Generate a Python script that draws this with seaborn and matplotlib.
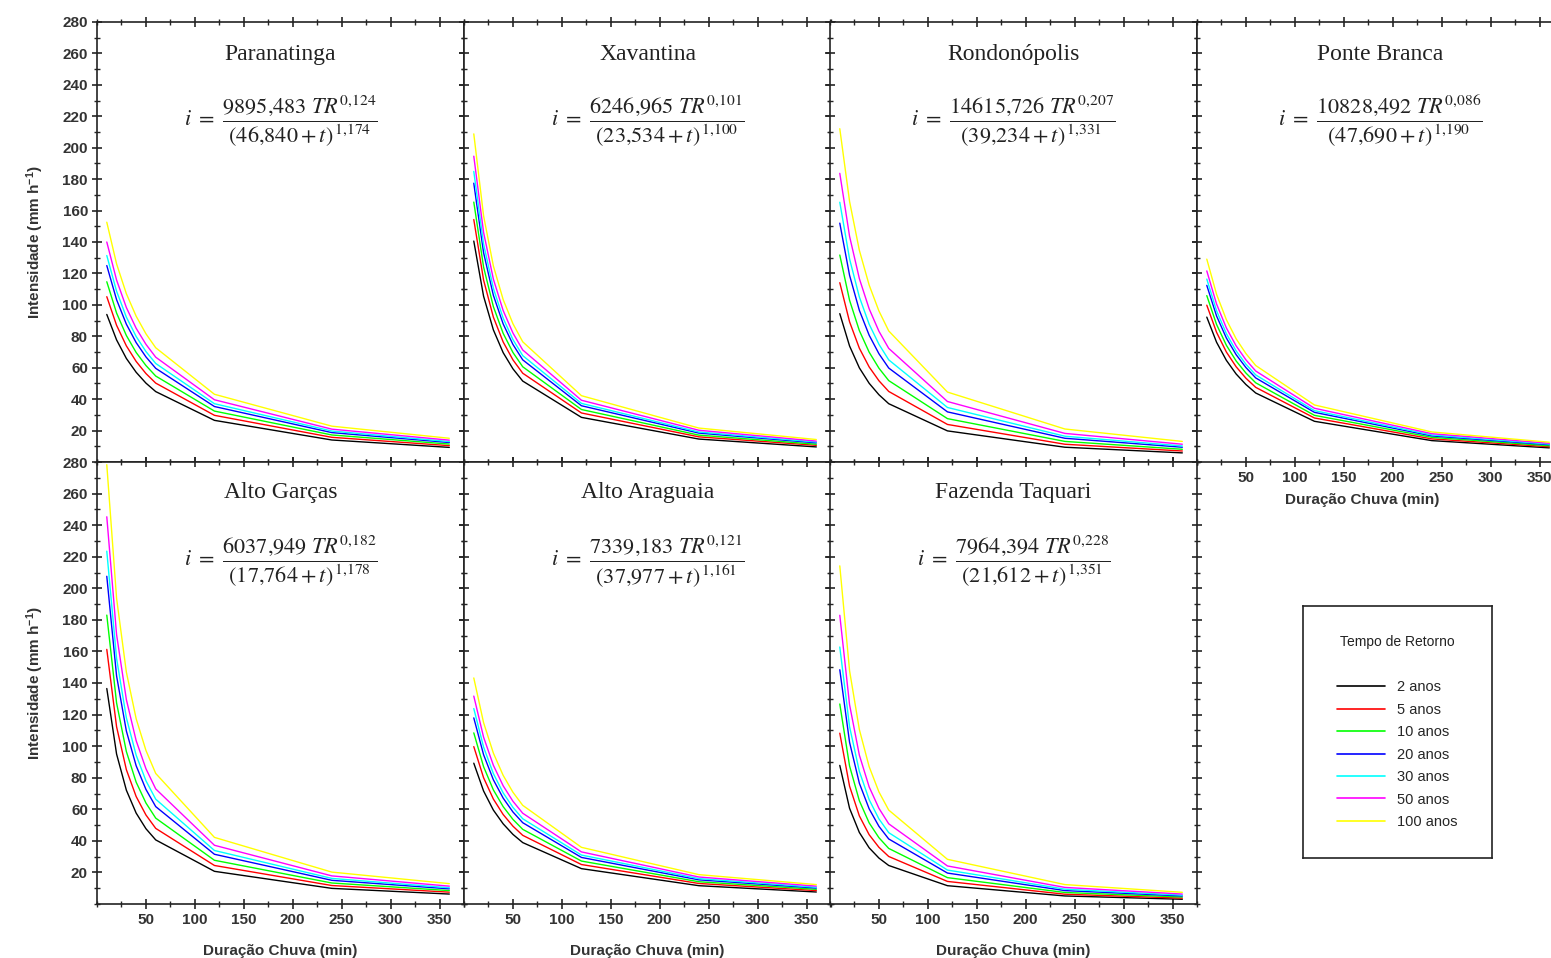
import matplotlib
matplotlib.use("Agg")
import matplotlib.pyplot as plt
from matplotlib.lines import Line2D
from matplotlib.ticker import MultipleLocator
import numpy as np
import pandas as pd
import seaborn as sns

# durations (min) and return periods
durations = [10, 20, 30, 40, 50, 60, 120, 240, 360]
return_periods = ["2 anos", "5 anos", "10 anos", "20 anos", "30 anos", "50 anos", "100 anos"]
line_colors = ["black", "red", "#00ff00", "blue", "cyan", "magenta", "yellow"]

# intensities (mm/h), one row per return period
paranatinga = [
    [93.9, 77.7, 65.9, 57.1, 50.2, 44.8, 26.5, 14.0, 9.3],
    [105.2, 87.0, 73.9, 64.0, 56.3, 50.2, 29.7, 15.7, 10.4],
    [114.7, 94.8, 80.5, 69.7, 61.4, 54.7, 32.4, 17.2, 11.4],
    [125.0, 103.3, 87.7, 76.0, 66.9, 59.6, 35.3, 18.7, 12.4],
    [131.4, 108.7, 92.2, 79.9, 70.3, 62.7, 37.1, 19.7, 13.0],
    [140.0, 115.8, 98.3, 85.1, 74.9, 66.7, 39.6, 20.9, 13.9],
    [152.6, 126.1, 107.1, 92.8, 81.6, 72.7, 43.1, 22.8, 15.1],
]
xavantina = [
    [140.6, 105.5, 84.1, 69.6, 59.3, 51.5, 28.4, 14.6, 9.6],
    [154.3, 115.8, 92.2, 76.4, 65.0, 56.5, 31.2, 16.0, 10.6],
    [165.4, 124.1, 98.9, 81.9, 69.7, 60.6, 33.4, 17.1, 11.3],
    [177.4, 133.2, 106.1, 87.9, 74.8, 65.0, 35.8, 18.4, 12.2],
    [184.9, 138.7, 110.5, 91.5, 77.9, 67.7, 37.3, 19.1, 12.7],
    [194.6, 146.1, 116.4, 96.4, 82.1, 71.3, 39.3, 20.2, 13.3],
    [208.8, 156.7, 124.8, 103.4, 88.0, 76.5, 42.2, 21.6, 14.3],
]
rondonopolis = [
    [94.4, 73.8, 59.9, 50.1, 42.8, 37.1, 19.8, 9.4, 5.8],
    [114.1, 89.2, 72.4, 60.5, 51.7, 44.9, 23.9, 11.3, 7.0],
    [131.7, 102.9, 83.6, 69.9, 59.7, 51.8, 27.6, 13.1, 8.1],
    [152.0, 118.8, 96.5, 80.7, 68.9, 59.8, 31.9, 15.1, 9.4],
    [165.3, 129.2, 105.0, 87.7, 74.9, 65.0, 34.7, 16.4, 10.2],
    [183.7, 143.6, 116.7, 97.5, 83.2, 72.3, 38.5, 18.2, 11.3],
    [212.1, 165.8, 134.7, 112.6, 96.1, 83.4, 44.5, 21.0, 13.1],
]
ponte_branca = [
    [92.2, 76.2, 64.7, 56.0, 49.3, 43.9, 25.9, 13.6, 9.0],
    [99.8, 82.5, 70.0, 60.6, 53.3, 47.5, 28.0, 14.7, 9.7],
    [105.9, 87.5, 74.3, 64.3, 56.6, 50.4, 29.7, 15.7, 10.3],
    [112.4, 92.9, 78.9, 68.3, 60.1, 53.5, 31.6, 16.6, 11.0],
    [116.4, 96.2, 81.7, 70.7, 62.2, 55.4, 32.7, 17.2, 11.4],
    [121.6, 100.5, 85.3, 73.9, 65.0, 57.9, 34.2, 18.0, 11.9],
    [129.1, 106.7, 90.6, 78.4, 69.0, 61.4, 36.3, 19.1, 12.6],
]
alto_garcas = [
    [136.5, 95.0, 72.1, 57.6, 47.7, 40.6, 20.7, 9.9, 6.3],
    [161.3, 112.3, 85.1, 68.1, 56.4, 47.9, 24.4, 11.7, 7.5],
    [183.0, 127.4, 96.6, 77.2, 64.0, 54.4, 27.7, 13.3, 8.5],
    [207.6, 144.5, 109.6, 87.6, 72.6, 61.7, 31.5, 15.0, 9.6],
    [223.5, 155.6, 118.0, 94.3, 78.1, 66.4, 33.9, 16.2, 10.3],
    [245.3, 170.7, 129.5, 103.5, 85.7, 72.9, 37.2, 17.8, 11.3],
    [278.3, 193.7, 146.9, 117.4, 97.3, 82.7, 42.2, 20.2, 12.9],
]
alto_araguaia = [
    [89.2, 71.6, 59.5, 50.8, 44.1, 38.9, 22.4, 11.6, 7.6],
    [99.7, 80.0, 66.5, 56.7, 49.3, 43.5, 25.0, 13.0, 8.5],
    [108.4, 87.0, 72.3, 61.7, 53.6, 47.3, 27.2, 14.1, 9.3],
    [117.9, 94.6, 78.7, 67.1, 58.3, 51.5, 29.5, 15.3, 10.1],
    [123.8, 99.4, 82.6, 70.4, 61.2, 54.0, 31.0, 16.1, 10.6],
    [131.7, 105.7, 87.9, 74.9, 65.1, 57.5, 33.0, 17.1, 11.3],
    [143.2, 114.9, 95.6, 81.5, 70.8, 62.5, 35.9, 18.6, 12.3],
]
fazenda_taquari = [
    [87.8, 60.6, 45.3, 35.6, 29.1, 24.4, 11.6, 5.1, 3.0],
    [108.2, 74.6, 55.8, 43.9, 35.9, 30.1, 14.3, 6.2, 3.7],
    [126.7, 87.4, 65.4, 51.4, 42.0, 35.2, 16.7, 7.3, 4.4],
    [148.4, 102.4, 76.5, 60.3, 49.2, 41.2, 19.6, 8.5, 5.1],
    [162.8, 112.3, 84.0, 66.1, 53.9, 45.2, 21.5, 9.4, 5.6],
    [182.9, 126.2, 94.3, 74.2, 60.6, 50.8, 24.1, 10.5, 6.3],
    [214.2, 147.8, 110.5, 87.0, 71.0, 59.5, 28.3, 12.3, 7.4],
]

stations = ["Paranatinga", "Xavantina", "Rondonópolis", "Ponte Branca",
            "Alto Garças", "Alto Araguaia", "Fazenda Taquari"]
station_data = [paranatinga, xavantina, rondonopolis, ponte_branca,
                alto_garcas, alto_araguaia, fazenda_taquari]
equations = [
    r"$i\ =\ \dfrac{9895{,}483\ TR^{0{,}124}}{(46{,}840+t)^{\,1{,}174}}$",
    r"$i\ =\ \dfrac{6246{,}965\ TR^{0{,}101}}{(23{,}534+t)^{\,1{,}100}}$",
    r"$i\ =\ \dfrac{14615{,}726\ TR^{0{,}207}}{(39{,}234+t)^{\,1{,}331}}$",
    r"$i\ =\ \dfrac{10828{,}492\ TR^{0{,}086}}{(47{,}690+t)^{\,1{,}190}}$",
    r"$i\ =\ \dfrac{6037{,}949\ TR^{0{,}182}}{(17{,}764+t)^{\,1{,}178}}$",
    r"$i\ =\ \dfrac{7339{,}183\ TR^{0{,}121}}{(37{,}977+t)^{\,1{,}161}}$",
    r"$i\ =\ \dfrac{7964{,}394\ TR^{0{,}228}}{(21{,}612+t)^{\,1{,}351}}$",
]

sns.set_style("ticks")
plt.rcParams["font.family"] = ["Liberation Sans", "DejaVu Sans"]
plt.rcParams["mathtext.fontset"] = "stix"

W, H = 1551, 958
fig = plt.figure(figsize=(W / 100, H / 100), dpi=100)

col_left = [97, 464, 830, 1197]
panel_w = 367
rows = [(22, 462), (462, 904)]

axes = []
for k in range(7):
    r, c = divmod(k, 4)
    top, bot = rows[r]
    ax = fig.add_axes([col_left[c] / W, 1 - bot / H, panel_w / W, (bot - top) / H])
    axes.append(ax)

    rows_long = []
    for tr, vals in zip(return_periods, station_data[k]):
        for d, v in zip(durations, vals):
            rows_long.append({"dur": d, "i": v, "TR": tr})
    df = pd.DataFrame(rows_long)
    sns.lineplot(data=df, x="dur", y="i", hue="TR", hue_order=return_periods,
                 palette=line_colors, legend=False, ax=ax, lw=1.0)

    ax.set_xlim(0, 375)
    ax.set_ylim(0, 280)
    ax.set_yticks(np.arange(20, 281, 20))
    ax.xaxis.set_minor_locator(MultipleLocator(25))
    ax.yaxis.set_minor_locator(MultipleLocator(10))
    ax.set_xticks([50, 100, 150, 200, 250, 300, 350])
    ax.tick_params(which="major", direction="inout", length=7, width=1.2,
                   top=True, right=True, labelsize=11, pad=3)
    ax.tick_params(which="minor", direction="inout", length=4, width=1.0,
                   top=True, right=True)
    for sp in ax.spines.values():
        sp.set_linewidth(1.2)
        sp.set_color("#222222")
    for lab in ax.get_xticklabels() + ax.get_yticklabels():
        lab.set_fontweight("bold")
        lab.set_color("#333333")

    if c == 0:
        ax.set_ylabel(r"Intensidade (mm h$^{\mathregular{-1}}$)", fontsize=11,
                      fontweight="bold", color="#333333", labelpad=12)
    else:
        ax.set_ylabel("")
        ax.tick_params(labelleft=False)

    if r == 1 or k == 3:
        ax.set_xlabel("Duração Chuva (min)", fontsize=11, fontweight="bold",
                      color="#333333", labelpad=12)
    else:
        ax.set_xlabel("")
        ax.tick_params(labelbottom=False)
    if k == 3:
        ax.xaxis.set_label_coords(0.45, -0.07)

    ty = 0.925 if r == 0 else 0.93
    ax.text(0.5, ty, stations[k], transform=ax.transAxes, ha="center", va="center",
            fontsize=17, family="Liberation Serif", color="#222222")
    ax.text(0.5, 0.775, equations[k], transform=ax.transAxes, ha="center", va="center",
            fontsize=16, color="#222222")

# legend panel
lax = fig.add_axes([1303 / W, 1 - 858 / H, 189 / W, 252 / H])
lax.set_xticks([])
lax.set_yticks([])
for sp in lax.spines.values():
    sp.set_linewidth(1.2)
    sp.set_color("#222222")
lax.text(0.5, 0.857, "Tempo de Retorno", transform=lax.transAxes, ha="center",
         va="center", fontsize=10, color="#222222")
handles = [Line2D([], [], color=col, lw=1.2) for col in line_colors]
lax.legend(handles, return_periods, loc="center", bbox_to_anchor=(0.5, 0.41),
           frameon=False, fontsize=10.5, handlelength=3.3, labelspacing=0.58,
           handletextpad=0.8)

fig.savefig("out.png", dpi=100)
